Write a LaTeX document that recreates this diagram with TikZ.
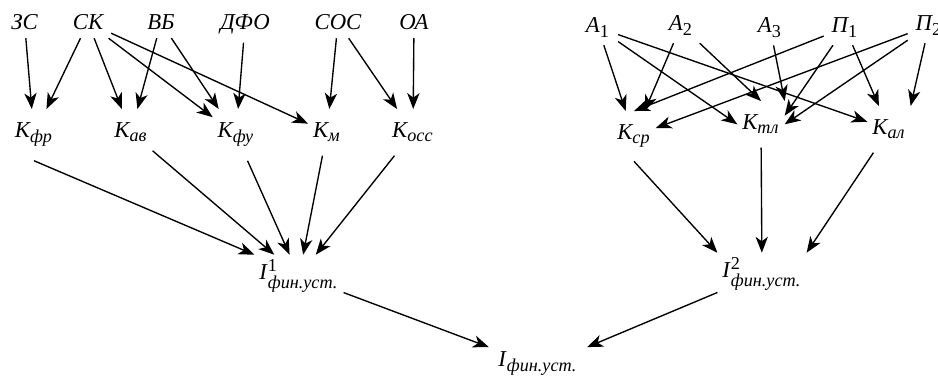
\documentclass[tikz,border=0pt]{standalone}
\usepackage{amsmath}
\usepackage{fontspec}
\setmainfont{Liberation Serif}
\DeclareMathSizes{10}{10}{8}{7}
\usepackage{tikz}
\usetikzlibrary{arrows.meta}
\tikzset{
    index diagram/.style={
            x=0.44pt,y=-0.44pt,
            every node/.style={anchor=base,font=\itshape},
            arrow/.style={-{Stealth[length=7pt,width=5.4pt,inset=2pt]},line width=0.6pt},
            coef/.style={inner xsep=2pt,inner ysep=6pt},
            total/.style={inner sep=2pt}
        }
    }
\newcommand{\kf}[1]{$\textit{K}_{\textit{#1}}$}
\newcommand{\fin}[1]{$\textit{I\/}^{\textup{#1}}_{\textit{фин.уст.}}$}
\newcommand{\src}[2]{$\textit{#1}_{\textup{#2}}$}

\begin{document}
\begin{tikzpicture}[index diagram]
        \useasboundingbox (0,0) rectangle (938,376);

        \node (ZS) at (24.5,30) {ЗС};
        \node (SK) at (88,30) {СК};
        \node (VB) at (161,30) {ВБ};
        \node (DFO) at (245,30) {ДФО};
        \node (SOS) at (338,30) {СОС};
        \node (OA) at (414,30) {ОА};
        \node (A1) at (598,33) {\src{A}{1}};
        \node (A2) at (681,31) {\src{A}{2}};
        \node (A3) at (770,33) {\src{A}{3}};
        \node (P1) at (845,33) {\src{П}{1}};
        \node (P2) at (929,31) {\src{П}{2}};

        \node (Kfr) [coef] at (34,138) {\kf{фр}};
        \node (Kav) [coef] at (131,138) {\kf{ав}};
        \node (Kfu) [coef] at (236,138) {\kf{фу}};
        \node (Km) [coef] at (327,138) {\kf{м}};
        \node (Kocc) [coef] at (413,138) {\kf{осс}};
        \node (Kcp) [coef] at (634,140) {\kf{ср}};
        \node (Ktl) [coef] at (761,130) {\kf{тл}};
        \node (Kal) [coef] at (889,135) {\kf{ал}};

        \node (I1) [total] at (299,280) {\fin{1}};
        \node (I2) [total] at (762,278) {\fin{2}};
        \node (I) [total, inner xsep=4pt] at (538,367) {$\textit{I\/}_{\textit{фин.уст.}}$};

        \draw [arrow] (ZS) --(Kfr);
        \draw [arrow] (SK) --(Kfr);
        \draw [arrow] (SK) --(Kav);
        \draw [arrow] (SK) --(Kfu);
        \draw [arrow] (SK) --(Km);
        \draw [arrow] (VB) --(Kav);
        \draw [arrow] (VB) --(Kfu);
        \draw [arrow] (DFO) --(Kfu);
        \draw [arrow] (SOS) --(Km);
        \draw [arrow] (SOS) --(Kocc);
        \draw [arrow] (OA) --(Kocc);

        \draw [arrow] (A1) --(Kcp);
        \draw [arrow] (A1) --(Ktl.west);
        \draw [arrow] (A1) --(Kal);
        \draw [arrow] (A2) --(Kcp);
        \draw [arrow] (A2) --(Ktl.north);
        \draw [arrow] (A3) --(Ktl.north east);
        \draw [arrow] (P1) --(Kcp.north);
        \draw [arrow] (P1) --(Ktl.20);
        \draw [arrow] (P1) --(Kal);
        \draw [arrow] (P2) --(Kcp);
        \draw [arrow] (P2) --(Ktl.east);
        \draw [arrow] (P2) --(Kal.north east);

        \draw [arrow] (Kfr.south) --(I1.north west);
        \draw [arrow] (Kav) --(I1);
        \draw [arrow] (Kfu) --(I1);
        \draw [arrow] (Km) --(I1);
        \draw [arrow] (Kocc) --(I1);
        \draw [arrow] (Kcp.south) --(I2.north west);
        \draw [arrow] (Ktl) --(I2);
        \draw [arrow] (Kal) --(I2.north east);

        \draw [arrow] (I1) --(I.north west);
        \draw [arrow] (I2) --(I.north east);
    \end{tikzpicture}
\end{document}
